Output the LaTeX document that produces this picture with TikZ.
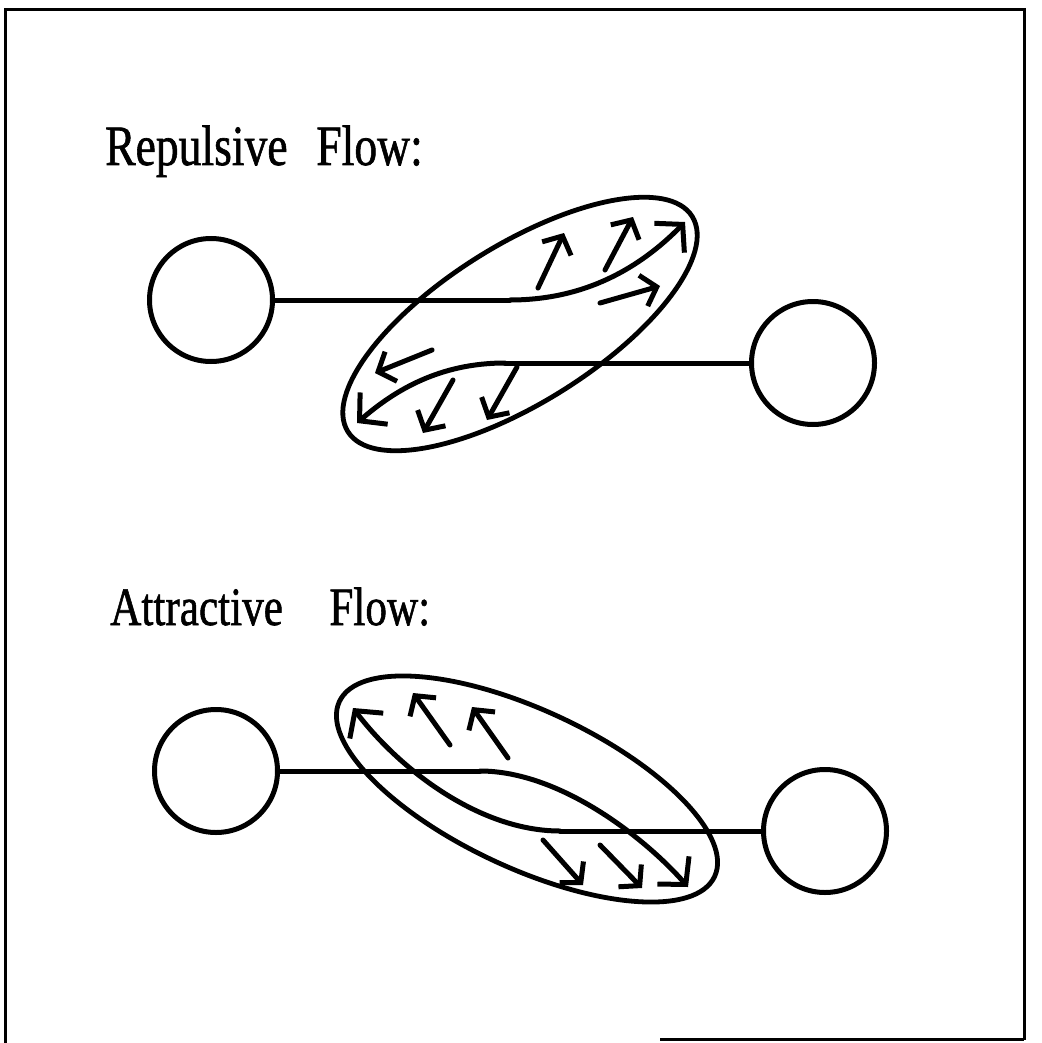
\documentclass[tikz,border=0pt]{standalone}
\usepackage{fontspec}
\usepackage{graphicx}
\setmainfont{Liberation Serif}
\newfontfamily\scanfont[FakeBold=1.2]{Liberation Serif}
\usetikzlibrary{arrows.meta,shapes.geometric}
\begin{document}
\begin{tikzpicture}[x=1pt,y=-1pt,
  ln/.style={line width=5pt, line cap=round, line join=round},
  ball/.style={draw, circle, line width=5pt, minimum size=123pt, inner sep=0pt},
  blob/.style={draw, ellipse, line width=4.8pt, inner sep=0pt},
  barb/.style={ln, -{Straight Barb[length=14pt, width=32pt]}},
  bigbarb/.style={ln, -{Straight Barb[length=19pt, width=42pt]}},
  frameline/.style={line width=3pt},
  lbl/.style={inner sep=0pt, anchor=base west}
]
\useasboundingbox (0,0) rectangle (1041,1043);
% frame
\draw[frameline] (5,1043) -- (5,10) -- (1024,10) -- (1024,1040);
\draw[frameline] (660,1039) -- (1024,1039);

% ---------- Repulsive ----------
\node[lbl, font=\scanfont\fontsize{57}{60}\selectfont] (t1) at (105,165) {\scalebox{0.8}[1]{Repulsive\hspace{36pt}Flow:}};
\node[ball] (cL1) at (211,300) {};
\node[ball] (cR1) at (813,363) {};
\node[blob, rotate=32, minimum width=406pt, minimum height=158pt] (e1) at (520,324) {};
\coordinate (p1) at (510,300);
\coordinate (q1) at (685,222);
\coordinate (p2) at (505,363);
\coordinate (q2) at (357,423);
\draw[ln] (cL1.east) -- (p1);
\draw[bigbarb] (p1) .. controls (585,300) and (640,268) .. (q1);
\draw[ln] (cR1.west) -- (p2);
\draw[bigbarb] (p2) .. controls (440,363) and (395,390) .. (q2);
% small arrows
\coordinate (a1s) at (538,288); \coordinate (a1e) at (564,233);
\coordinate (a2s) at (605,270); \coordinate (a2e) at (633,217);
\coordinate (a3s) at (600,303); \coordinate (a3e) at (660,286);
\coordinate (b1s) at (432,350); \coordinate (b1e) at (375,373);
\coordinate (b2s) at (453,380); \coordinate (b2e) at (423,433);
\coordinate (b3s) at (517,367); \coordinate (b3e) at (487,420);
\draw[barb] (a1s) -- (a1e);
\draw[barb] (a2s) -- (a2e);
\draw[barb] (a3s) -- (a3e);
\draw[barb] (b1s) -- (b1e);
\draw[barb] (b2s) -- (b2e);
\draw[barb] (b3s) -- (b3e);

% ---------- Attractive ----------
\node[lbl, font=\scanfont\fontsize{54}{58}\selectfont] (t2) at (110,625) {\scalebox{0.8}[1]{Attractive\hspace{58pt}Flow:}};
\node[ball] (cL2) at (216,771) {};
\node[ball] (cR2) at (825,831) {};
\node[blob, rotate=-25, minimum width=414pt, minimum height=158pt] (e2) at (527,789) {};
\coordinate (p3) at (480,771);
\coordinate (q3) at (688,887);
\coordinate (p4) at (560,831);
\coordinate (q4) at (353,708);
\draw[ln] (cL2.east) -- (p3);
\draw[bigbarb] (p3) .. controls (560,771) and (645,838) .. (q3);
\draw[ln] (cR2.west) -- (p4);
\draw[bigbarb] (p4) .. controls (480,831) and (400,770) .. (q4);
\coordinate (c1s) at (450,745); \coordinate (c1e) at (413,693);
\coordinate (c2s) at (508,758); \coordinate (c2e) at (472,707);
\coordinate (d1s) at (543,840); \coordinate (d1e) at (583,885);
\coordinate (d2s) at (600,845); \coordinate (d2e) at (642,888);
\draw[barb] (c1s) -- (c1e);
\draw[barb] (c2s) -- (c2e);
\draw[barb] (d1s) -- (d1e);
\draw[barb] (d2s) -- (d2e);
\end{tikzpicture}
\end{document}
